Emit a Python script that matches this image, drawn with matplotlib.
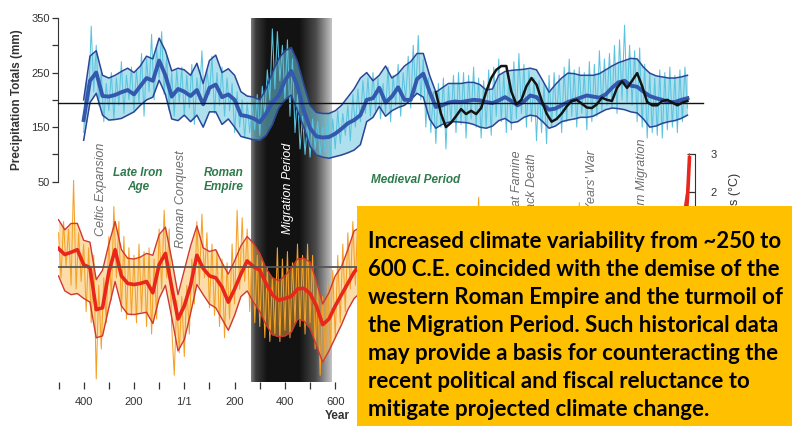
import numpy as np
import matplotlib
matplotlib.use('Agg')
import matplotlib.pyplot as plt
from matplotlib.colors import LinearSegmentedColormap

# ---- precipitation reconstruction (mm) ----
precip_years = np.arange(-400, 2001, 25)
precip_smooth = [
    163, 235, 250, 207, 206, 209, 214, 218, 210, 225, 240, 235,
    272, 245, 206, 220, 215, 207, 218, 192, 222, 228, 205, 210,
    200, 172, 170, 166, 159, 175, 195, 208, 235, 253, 225, 180,
    148, 133, 131, 132, 138, 147, 157, 163, 172, 200, 203, 222,
    195, 206, 223, 200, 200, 238, 248, 215, 187, 190, 195, 197,
    196, 198, 200, 199, 196, 194, 199, 205, 198, 190, 197, 208,
    205, 192, 182, 184, 190, 196, 200, 204, 208, 206, 204, 210,
    222, 232, 235, 226, 224, 215, 207, 203, 200, 196, 196, 200,
    203,
]
precip_upper = [
    200, 280, 290, 245, 240, 245, 252, 258, 250, 262, 280, 275,
    313, 290, 253, 258, 255, 245, 267, 230, 272, 282, 250, 257,
    245, 215, 207, 205, 200, 220, 250, 275, 290, 296, 270, 228,
    190, 177, 175, 175, 180, 190, 205, 220, 240, 250, 235, 245,
    262, 240, 248, 262, 270, 285, 285, 245, 214, 222, 230, 230,
    230, 232, 232, 228, 218, 220, 245, 252, 254, 255, 256, 258,
    255, 235, 214, 228, 240, 249, 248, 245, 245, 245, 248, 255,
    262, 268, 272, 276, 275, 260, 249, 244, 242, 240, 240, 242,
    245,
]
precip_lower = [
    126, 195, 212, 172, 163, 164, 166, 172, 178, 190, 200, 205,
    236, 210, 165, 162, 172, 160, 172, 150, 178, 178, 155, 165,
    150, 133, 130, 127, 126, 135, 155, 185, 200, 209, 180, 150,
    115, 99, 95, 93, 96, 99, 103, 108, 118, 160, 168, 188,
    170, 180, 186, 190, 200, 212, 205, 165, 148, 155, 159, 160,
    159, 158, 155, 150, 148, 152, 162, 166, 158, 160, 168, 172,
    170, 160, 148, 152, 160, 163, 165, 168, 168, 170, 176, 182,
    185, 184, 182, 178, 176, 165, 150, 152, 157, 160, 162, 166,
    172,
]

# annual-scale values, one per decade
precip_raw_years = np.arange(-400, 2001, 10)
precip_raw = [
    140, 230, 200, 335, 215, 300, 190, 250, 160, 230,
    180, 250, 165, 240, 190, 270, 175, 245, 200, 260,
    180, 255, 195, 285, 170, 275, 215, 320, 200, 295,
    240, 325, 210, 280, 180, 250, 170, 255, 195, 260,
    170, 245, 185, 265, 155, 240, 200, 290, 190, 255,
    210, 280, 175, 250, 190, 260, 170, 240, 180, 230,
    140, 215, 150, 200, 130, 195, 140, 190, 145, 210,
    135, 225, 170, 255, 200, 330, 220, 325, 235, 300,
    200, 310, 170, 275, 140, 210, 110, 170, 100, 160,
    95, 165, 110, 160, 100, 150, 105, 175, 95, 165,
    110, 180, 120, 175, 135, 190, 125, 210, 150, 220,
    160, 235, 175, 240, 170, 250, 180, 240, 165, 230,
    175, 260, 160, 245, 190, 265, 170, 250, 200, 280,
    185, 300, 210, 318, 200, 275, 150, 240, 140, 215,
    120, 230, 150, 240, 110, 225, 160, 245, 140, 250,
    155, 250, 130, 245, 165, 260, 150, 240, 130, 235,
    150, 255, 135, 260, 170, 275, 160, 250, 140, 245,
    145, 270, 165, 285, 175, 265, 150, 255, 160, 240,
    125, 235, 140, 230, 120, 245, 150, 250, 165, 245,
    140, 260, 160, 275, 170, 255, 150, 260, 175, 250,
    145, 270, 160, 265, 170, 290, 180, 275, 190, 285,
    185, 300, 175, 310, 200, 337, 195, 300, 190, 290,
    160, 295, 150, 265, 130, 250, 140, 240, 135, 255,
    130, 250, 145, 260, 150, 245, 140, 255, 160, 260,
    185,
]

# second record, 1000-2000
record_years = np.arange(1000, 2001, 20)
record_values = [
    214, 175, 150, 158, 170, 183, 174, 180, 174, 185,
    215, 240, 255, 262, 262, 215, 192, 200, 225, 240,
    228, 200, 175, 160, 165, 175, 188, 198, 200, 193,
    186, 185, 192, 204, 200, 198, 222, 234, 222, 235,
    249, 225, 196, 190, 190, 198, 200, 195, 190, 195,
    198,
]
precip_mean = 195

# ---- temperature reconstruction (deg C) ----
temp_years = list(range(-500, 2001, 25)) + [2008]
temp_smooth = [
    0.48, 0.32, 0.38, 0.45, 0.05, -0.03, -1.15, -1.10, -0.15, 0.45,
    -0.25, -0.45, -0.48, -0.45, -0.40, -0.70, 0.05, 0.35, -0.55, -1.40,
    -1.05, -0.50, 0.30, -0.05, -0.25, -0.30, -0.55, -0.95, -0.60, -0.20,
    0.15, 0.00, -0.10, -0.45, -0.75, -0.90, -0.85, -0.80, -0.60, -0.58,
    -0.72, -1.05, -1.55, -1.40, -1.05, -0.75, -0.45, -0.15, 0.05,
    0.15, -0.10, 0.10, 0.20, -0.10, 0.05, 0.25, 0.10, -0.20, 0.15,
    0.30, 0.35, 0.20, 0.40, 0.25, 0.10, 0.30, 0.45, 0.20, 0.05,
    0.25, 0.10, -0.30, -0.10, 0.15, -0.20, 0.05, 0.25, 0.10, -0.45,
    -0.20, 0.10, 0.20, -0.10, -0.40, -0.70, -0.35, -0.50, -0.75, -0.40,
    0.05, -0.20, 0.10, -0.45, -0.60, -0.30, -0.10, -0.25, 0.20, 0.30,
    0.25, 1.80, 2.90,
]
temp_upper = [
    1.25, 0.98, 1.15, 1.15, 0.70, 0.65, -0.35, -0.10, 0.60, 1.20,
    0.45, 0.22, 0.20, 0.25, 0.35, 0.30, 0.85, 1.05, 0.20, -0.75,
    -0.10, 0.55, 1.08, 0.50, 0.40, 0.45, 0.10, -0.20, 0.15, 0.55,
    0.80, 0.62, 0.35, -0.05, -0.30, -0.38, -0.25, -0.05, 0.20, 0.22,
    0.12, -0.40, -1.00, -0.70, -0.25, 0.00, 0.45, 0.95, 1.05,
    0.95, 0.70, 0.90, 1.00, 0.70, 0.85, 1.05, 0.90, 0.60, 0.95,
    1.10, 1.15, 1.00, 1.20, 1.05, 0.90, 1.10, 1.20, 1.00, 0.85,
    1.05, 0.90, 0.50, 0.70, 0.95, 0.60, 0.85, 1.05, 0.90, 0.35,
    0.60, 0.90, 1.00, 0.70, 0.40, 0.10, 0.45, 0.30, 0.05, 0.40,
    0.85, 0.60, 0.90, 0.35, 0.20, 0.50, 0.70, 0.55, 1.00, 1.10,
    1.05, 2.10, 3.00,
]
temp_lower = [
    -0.25, -0.65, -0.75, -0.72, -0.85, -0.95, -1.90, -1.85, -1.10, -0.40,
    -1.05, -1.27, -1.28, -1.25, -1.22, -1.52, -0.85, -0.50, -1.35, -2.25,
    -1.95, -1.25, -0.48, -0.75, -1.00, -1.10, -1.40, -1.70, -1.30, -0.80,
    -0.65, -0.95, -1.20, -1.55, -1.82, -1.87, -1.85, -1.75, -1.40, -1.45,
    -1.65, -2.10, -2.55, -2.25, -1.90, -1.55, -1.15, -0.85, -0.70,
    -0.65, -0.90, -0.70, -0.60, -0.90, -0.75, -0.55, -0.70, -1.00, -0.65,
    -0.50, -0.45, -0.60, -0.40, -0.55, -0.70, -0.50, -0.35, -0.60, -0.75,
    -0.55, -0.70, -1.10, -0.90, -0.65, -1.00, -0.75, -0.55, -0.70, -1.25,
    -1.00, -0.70, -0.60, -0.90, -1.20, -1.50, -1.15, -1.30, -1.55, -1.20,
    -0.75, -1.00, -0.70, -1.25, -1.40, -1.10, -0.90, -1.05, -0.60, -0.50,
    -0.55, 1.50, 2.80,
]

temp_raw_years = np.arange(-500, 2001, 10)
temp_raw = [
    0.9, -0.3, 1.2, 0.0, 1.0, -0.5, 2.3, -0.6, 0.9, -0.4,
    0.6, -1.2, 0.5, -1.5, 0.3, -3.0, -0.5, -2.2, -0.3, -1.5,
    0.8, -0.9, 1.6, -0.3, 1.2, -1.2, 0.8, -1.4, 0.5, -1.3,
    0.3, -1.5, 0.6, -1.2, 0.4, -1.6, 0.5, -1.8, 0.2, -1.4,
    1.0, -0.6, 1.5, -0.3, 1.0, -1.6, -2.9, -0.9, -2.3, -0.8,
    -2.4, -0.5, -1.8, 0.2, -1.0, 1.2, -0.5, 1.4, -0.3, 0.9,
    -1.1, 0.6, -1.3, 0.4, -1.6, 0.2, -1.9, 0.1, -1.4, 0.6,
    -1.0, 1.5, -0.6, 1.3, -0.4, 1.0, -1.2, 0.6, -1.5, 0.3,
    -1.6, 0.2, -1.9, 0.0, -2.0, -0.3, -1.8, 0.5, -2.0, 0.2,
    -1.7, 0.4, -1.9, 0.1, -1.5, 0.6, -1.6, 0.3, -1.8, 0.6,
    -1.5, 0.3, -2.2, -0.5, -2.9, -0.8, -2.5, -0.4, -2.2, -0.1,
    -1.9, 0.3, -1.5, 0.6, -1.2, 0.9, -0.6, 1.2, -0.5, 1.4,
    -0.4, 1.0, -0.5, 1.1, -0.6, 0.9, -0.7, 1.45, -0.5, 1.0,
    -0.6, 1.1, -0.8, 0.9, -0.5, 1.2, -0.4, 1.0, -0.7, 0.8,
    -0.9, 0.9, -0.6, 1.1, -1.0, 0.7, -0.4, 1.0, -0.3, 1.2,
    -0.4, 1.1, -0.5, 0.9, -0.3, 1.45, -0.4, 1.2, -0.6, 0.9,
    -0.7, 1.0, -0.5, 0.9, -0.4, 1.1, -0.3, 1.85, -0.6, 1.0,
    -0.5, 1.2, -0.6, 0.8, -0.7, 1.0, -0.9, 0.6, -0.8, 0.9,
    -0.7, 1.0, -0.5, 1.2, -0.8, 0.9, -0.6, 1.1, -0.4, 1.2,
    -0.5, 1.0, -0.6, 1.1, -1.2, 0.5, -1.0, 0.6, -0.7, 0.9,
    -0.6, 1.1, -0.5, 1.2, -0.7, 0.8, -0.9, 1.7, -1.1, 0.5,
    -1.4, 0.2, -1.1, 0.4, -1.3, 0.3, -1.5, 0.1, -1.2, 0.5,
    -0.9, 0.8, -0.6, 1.0, -0.8, 0.7, -0.7, 0.9, -0.5, 1.6,
    -1.2, 0.4, -1.3, 0.3, -1.0, 0.6, -0.9, 1.6, -0.8, 0.7,
    -0.9, 0.8, -0.5, 1.0, -0.3, 1.1, 1.6, 0.2, 0.9, 1.4,
    1.9,
]

# ---- annotations ----
year_ticks = list(range(-500, 601, 100))
year_labels = ['', '400', '', '200', '', '1/1', '', '200', '', '400', '', '600']
precip_ticks = [50, 100, 150, 200, 250, 300, 350]
precip_labels = ['50', '', '150', '', '250', '', '350']
temp_ticks = [2, 3]

events = ['Celtic Expansion', 'Roman Conquest', 'Great Famine', 'Black Death',
          "Hundred Years' War", 'Modern Migration']
event_years = [-331, -13, 1323, 1383, 1621, 1820]
event_tops = [122, 108, 108, 102, 108, 130]

periods = ['Late Iron\nAge', 'Roman\nEmpire', 'Medieval Period']
period_years = [-184, 155, 918]

migration_span = (266, 587)

caption = [
    'Increased climate variability from ~250 to',
    '600 C.E. coincided with the demise of the',
    'western Roman Empire and the turmoil of',
    'the Migration Period. Such historical data',
    'may provide a basis for counteracting the',
    'recent political and fiscal reluctance to',
    'mitigate projected climate change.',
]

# ---- figure ----
W, H = 792, 426
fig = plt.figure(figsize=(W / 100, H / 100), dpi=100)
ax = fig.add_axes([58 / W, 1 - 382 / H, 637 / W, 364 / H])
ax_t = ax.twinx()

xlim = (-502, 2030)
p_lim = (-317, 349.6)
t_lim = (-3.08, 6.63)

# Migration Period shading
band_cmap = LinearSegmentedColormap.from_list(
    'band', [(0, '#7a7a7a'), (0.06, '#3a3a3a'), (0.2, '#121212'),
             (0.6, '#121212'), (0.8, '#4a4a4a'), (1.0, '#c4c4c4')])
ax.imshow(np.linspace(0, 1, 256)[None, :], cmap=band_cmap, aspect='auto',
          extent=(migration_span[0], migration_span[1], p_lim[0], p_lim[1]),
          zorder=0)

# precipitation
ax.fill_between(precip_years, precip_lower, precip_upper, color='#6cc8e0',
                alpha=0.55, lw=0, zorder=1)
ax.plot(precip_raw_years, precip_raw, color='#5cc3df', lw=0.75, zorder=2)
ax.plot(precip_years, precip_upper, color='#2c4596', lw=1.1, zorder=3)
ax.plot(precip_years, precip_lower, color='#2c4596', lw=1.1, zorder=3)
ax.plot(precip_years, precip_smooth, color='#3458ad', lw=2.8, zorder=4)
ax.plot(record_years, record_values, color='#141414', lw=1.8, zorder=5)
ax.plot([xlim[0], 2060], [precip_mean, precip_mean], color='#111111',
        lw=1.0, zorder=6, clip_on=False)

# temperature
ax_t.fill_between(temp_years, temp_lower, temp_upper, color='#f9b444',
                  alpha=0.45, lw=0, zorder=1)
ax_t.plot(temp_raw_years, temp_raw, color='#f4a125', lw=0.75, zorder=2)
ax_t.plot(temp_years, temp_upper, color='#d2382f', lw=1.0, zorder=3)
ax_t.plot(temp_years, temp_lower, color='#d2382f', lw=1.0, zorder=3)
ax_t.plot(temp_years, temp_smooth, color='#e8261c', lw=2.6, zorder=4)
ax_t.axhline(0, color='#555555', lw=1.3, zorder=5)

ax.set_xlim(xlim)
ax.set_ylim(p_lim)
ax_t.set_ylim(t_lim)

# axes styling
for side in ['top', 'right', 'bottom']:
    ax.spines[side].set_visible(False)
ax.spines['left'].set_bounds(50, 350)
ax.spines['left'].set_color('#333333')
ax.set_yticks(precip_ticks)
ax.set_yticklabels(precip_labels)
ax.set_xticks(year_ticks)
ax.set_xticklabels(year_labels)
ax.tick_params(axis='y', length=4, width=0.9, color='#333333', labelsize=8,
               labelcolor='#333333', pad=2)
ax.tick_params(axis='x', length=5, width=0.9, color='#333333', labelsize=8,
               labelcolor='#333333', pad=6)
for lab in ax.get_xticklabels() + ax.get_yticklabels():
    lab.set_family('Liberation Sans')

for side in ['top', 'left', 'bottom']:
    ax_t.spines[side].set_visible(False)
ax_t.spines['right'].set_bounds(-3, 3)
ax_t.spines['right'].set_color('#333333')
ax_t.set_yticks(temp_ticks)
ax_t.tick_params(axis='y', direction='in', length=6, width=0.9,
                 color='#333333', labelsize=8, labelcolor='#333333', pad=11)
for lab in ax_t.get_yticklabels():
    lab.set_family('Liberation Sans')

fig.text(17 / W, 1 - 100 / H, 'Precipitation Totals (mm)', rotation=90,
         ha='center', va='center', fontsize=8.5, fontweight='bold',
         color='#333333', family='Liberation Sans')
fig.text(337 / W, 1 - 416 / H, 'Year', ha='center', va='center',
         fontsize=8.5, fontweight='bold', color='#333333',
         family='Liberation Sans')
ax_t.text(735 / W, 1 - 173 / H, 'Temperature Anomalies (°C)', rotation=90,
          ha='center', va='top', fontsize=9, color='#333333',
          family='Liberation Sans', transform=fig.transFigure)

# historical events and periods
for name, yr, top in zip(events, event_years, event_tops):
    ax.text(yr, top, name, rotation=90, ha='center', va='top', fontsize=9,
            style='italic', color='#6e6e6e', family='Liberation Sans',
            zorder=7)
ax.text(412, 122, 'Migration Period', rotation=90, ha='center', va='top',
        fontsize=9, style='italic', color='white', family='Liberation Sans',
        zorder=7)
for name, yr in zip(periods, period_years):
    ax.text(yr, 53, name, ha='center', va='center', fontsize=8.5,
            style='italic', fontweight='bold', color='#2e7a4c',
            family='Liberation Sans', linespacing=1.25, zorder=7)

# caption box
box = fig.add_axes([357 / W, 0, (W - 357) / W, 220 / H])
box.set_zorder(10)
box.set_facecolor('#ffc000')
box.set_xticks([])
box.set_yticks([])
for s in box.spines.values():
    s.set_visible(False)
for i, line in enumerate(caption):
    y_px = 242 + 28 * i
    box.text(11 / (W - 357), (H - y_px) / 220, line, ha='left', va='center',
             fontsize=16, fontweight='bold', color='black', family='Lato',
             transform=box.transAxes)

fig.savefig('out.png', dpi=100)
